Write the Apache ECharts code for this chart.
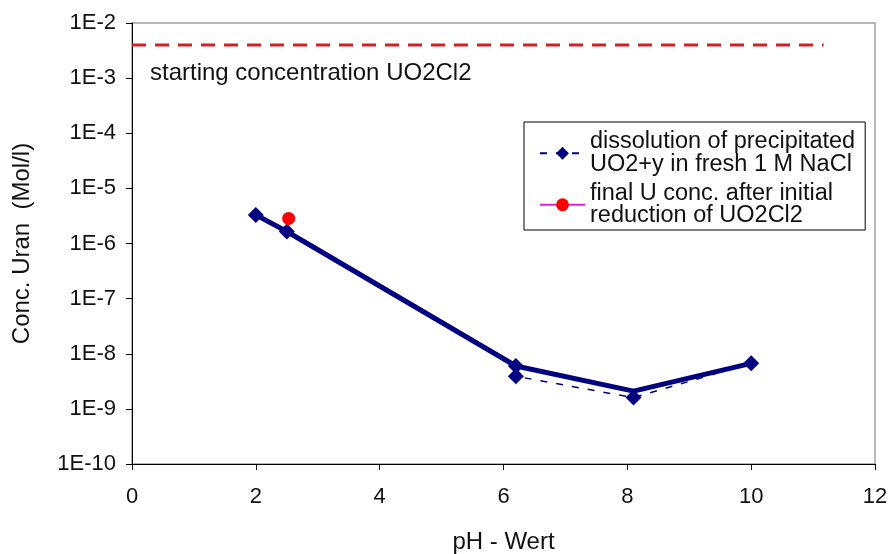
<!DOCTYPE html>
<html>
<head>
<meta charset="utf-8">
<script src="https://cdn.jsdelivr.net/npm/echarts@6/dist/echarts.min.js"></script>
<style>
  html, body { margin: 0; padding: 0; background: #fff; }
  #chart { width: 889px; height: 554px; }
</style>
</head>
<body>
<div id="chart"></div>
<script>
// pH axis ticks
const xTicks = [0, 2, 4, 6, 8, 10, 12];
// dissolution of precipitated UO2+y in fresh 1 M NaCl
const phDissolution = [2, 2.5, 6.2, 6.2, 8.1, 10];
const concDissolution = [3.3e-6, 1.65e-6, 6.0e-9, 3.9e-9, 1.6e-9, 6.7e-9];
// trend through the dissolution results
const phTrend = [2, 2.5, 6.2, 8.1, 10];
const concTrend = [3.3e-6, 1.65e-6, 6.0e-9, 2.1e-9, 6.7e-9];
// final U concentration after initial reduction of UO2Cl2
const phFinal = [2.53];
const concFinal = [2.85e-6];
// starting concentration of UO2Cl2
const phStart = [0, 11.17];
const concStart = [4.0e-3, 4.0e-3];

const FONT = 'Liberation Sans, Arial, sans-serif';
const zip = (xs, ys) => xs.map((x, i) => [x, ys[i]]);

const chart = echarts.init(document.getElementById('chart'), null, { renderer: 'canvas' });
chart.setOption({
  backgroundColor: '#ffffff',
  animation: false,
  title: {
    text: 'starting concentration UO2Cl2',
    left: 150, top: 61, padding: 0,
    textStyle: { fontFamily: FONT, fontSize: 24, fontWeight: 'normal', color: '#111' }
  },
  grid: {
    left: 132, right: 14, top: 23, bottom: 90,
    outerBoundsMode: 'none', containLabel: false,
    show: true, borderColor: '#a0a0a0', borderWidth: 1.5, backgroundColor: '#fff'
  },
  legend: {
    orient: 'vertical',
    left: 524, top: 122,
    width: 343,
    padding: [8, 10, 2, 15],
    borderColor: '#000', borderWidth: 1,
    backgroundColor: '#fff',
    itemWidth: 45, itemHeight: 16,
    itemGap: 5,
    data: ['dissolution', 'final'],
    formatter: function (name) {
      return name === 'dissolution'
        ? 'dissolution of precipitated\nUO2+y in fresh 1 M NaCl'
        : 'final U conc. after initial\nreduction of UO2Cl2';
    },
    textStyle: { fontFamily: FONT, fontSize: 23.5, color: '#111', lineHeight: 22.5 }
  },
  xAxis: {
    type: 'value', min: 0, max: 12, interval: 2,
    name: 'pH - Wert', nameLocation: 'middle', nameGap: 66,
    nameTextStyle: { fontFamily: FONT, fontSize: 24, color: '#111' },
    axisLine: { onZero: false, lineStyle: { color: '#000', width: 1 } },
    axisTick: { show: true, length: 6, lineStyle: { color: '#000' } },
    axisLabel: {
      margin: 22, fontFamily: FONT, fontSize: 22, color: '#111',
      formatter: function (v) { return xTicks.indexOf(v) >= 0 ? String(v) : ''; }
    },
    splitLine: { show: false }
  },
  yAxis: {
    type: 'log', logBase: 10, min: 1e-10, max: 1e-2,
    name: 'Conc. Uran  (Mol/l)', nameLocation: 'middle', nameGap: 98, nameRotate: 90,
    nameTextStyle: { fontFamily: FONT, fontSize: 24, color: '#111' },
    axisLine: { onZero: false, lineStyle: { color: '#000', width: 1 } },
    axisTick: { show: true, length: 6, lineStyle: { color: '#000' } },
    axisLabel: {
      margin: 16, fontFamily: FONT, fontSize: 22, color: '#111',
      formatter: function (v) { return '1E' + Math.round(Math.log10(v)); }
    },
    splitLine: { show: false }
  },
  series: [
    {
      name: 'start', type: 'line', data: zip(phStart, concStart),
      symbol: 'none', silent: true,
      lineStyle: { color: '#d42020', width: 3, type: [14, 9] }
    },
    {
      name: 'trend', type: 'line', data: zip(phTrend, concTrend),
      symbol: 'none', silent: true,
      lineStyle: { color: '#000080', width: 5 }
    },
    {
      name: 'dissolution', type: 'line', data: zip(phDissolution, concDissolution),
      symbol: 'diamond', symbolSize: 16,
      itemStyle: { color: '#000080' },
      lineStyle: { color: '#000080', width: 1.5, type: [7, 9] }
    },
    {
      name: 'final', type: 'line', data: zip(phFinal, concFinal),
      symbol: 'circle', symbolSize: 13,
      itemStyle: { color: '#ff0000' },
      lineStyle: { color: '#e020e0', width: 1.5 }
    }
  ]
});
</script>
</body>
</html>
